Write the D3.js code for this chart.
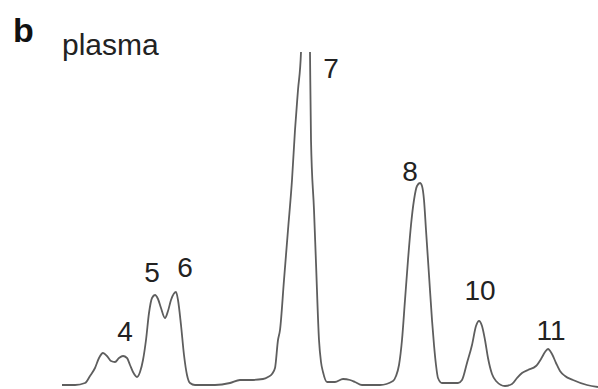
<!DOCTYPE html>
<html><head><meta charset="utf-8">
<script src="https://cdn.jsdelivr.net/npm/d3@7"></script>
<style>html,body{margin:0;padding:0;background:#fff;}</style>
</head><body><div id="chart"></div>
<script>
// retention time (arbitrary units) and detector signal (arbitrary units)
const time = [2,15,25,30,35,39,43,47,51,55,59,63,67,70,73,77,80,83,86,89,92,95,98,101,105,108,111,116,118,121,124,127,130,135,155,170,180,190,203,208,212,215,218,220,224,228,232,235,238,241,243,248,250,251,254,256,259,261,263,267,275,283,290,295,302,320,333,336,339,342,345,348,351,354,357,360,362,364,366,369,372,374,376,378,382,398,402,407,412,416,419,422,425,428,432,436,445,452,457,462,468,476,481,485,488,492,496,500,505,513,527,538];
const signal = [2,2,4,11,19,29,34,31,26,25,29,31,29,22,15,10,15,27,47,74,89,92,88,79,69,76,87,95,87,62,32,12,4,2,2,4,7,7,8,10,13,19,47,57,107,157,207,257,297,335,560,560,335,247,177,124,47,25,15,5,5,8,7,5,2,2,6,11,22,47,87,127,162,187,201,204,201,187,157,112,67,42,22,9,4,4,7,24,42,61,66,61,47,29,13,6,1,3,9,14,17,21,28,35,38,33,24,16,11,7,2,0];
const peakLabels = ["4","5","6","7","8","10","11"];
const peakLabelTime = [65,92,125,271,350,420,491];
const peakLabelSignal = [46,105,110,309,206,87,47];
const panelLetter = "b";
const sampleName = "plasma";

const W = 598, H = 389;
const svg = d3.select("#chart").append("svg").attr("width", W).attr("height", H);
const x = d3.scaleLinear().domain([0, 538]).range([60, 598]);
const y = d3.scaleLinear().domain([0, 335]).range([387, 52]);

svg.append("clipPath").attr("id","clip").append("rect")
  .attr("x", 0).attr("y", y(335)).attr("width", W).attr("height", H - y(335));

const data = time.map((t,i)=>({t, s: signal[i]}));
const line = d3.line().x(d=>x(d.t)).y(d=>y(d.s)).curve(d3.curveMonotoneX);
svg.append("path").datum(data).attr("d", line).attr("clip-path","url(#clip)")
  .attr("fill","none").attr("stroke","#5e5e5e").attr("stroke-width",1.8)
  .attr("stroke-linejoin","round");

svg.append("text").attr("x", 13).attr("y", 42).text(panelLetter)
  .attr("font-family","Liberation Sans, Arial, sans-serif").attr("font-weight","bold")
  .attr("font-size", 34).attr("fill","#111");
svg.append("text").attr("x", 62).attr("y", 55).text(sampleName)
  .attr("font-family","Liberation Sans, Arial, sans-serif")
  .attr("font-size", 30).attr("fill","#222");

svg.selectAll("text.pk").data(peakLabels).enter().append("text").attr("class","pk")
  .attr("x",(d,i)=>x(peakLabelTime[i])).attr("y",(d,i)=>y(peakLabelSignal[i]))
  .attr("text-anchor","middle").text(d=>d)
  .attr("font-family","Liberation Sans, Arial, sans-serif")
  .attr("font-size", 28).attr("fill","#222");
</script></body></html>
